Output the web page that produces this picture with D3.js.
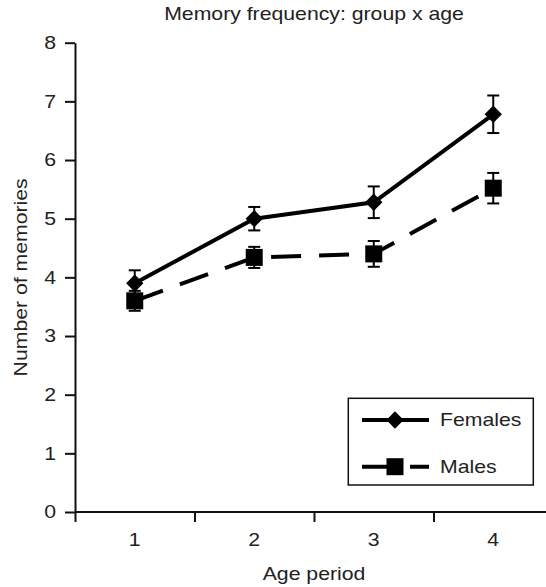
<!DOCTYPE html>
<html>
<head>
<meta charset="utf-8">
<script src="https://cdn.jsdelivr.net/npm/d3@7"></script>
<style>
  body { margin: 0; background: #fff; }
  svg { display: block; font-family: "Liberation Sans", Arial, Helvetica, sans-serif; }
</style>
</head>
<body>
<div id="chart"></div>
<script>
// values
var periods = ["1", "2", "3", "4"];
var females = [3.90, 5.00, 5.28, 6.78];
var femalesErr = [0.22, 0.20, 0.27, 0.32];
var males = [3.60, 4.34, 4.40, 5.52];
var malesErr = [0.17, 0.18, 0.22, 0.26];
var yTicks = [0, 1, 2, 3, 4, 5, 6, 7, 8];
var seriesNames = ["Females", "Males"];

var width = 546, height = 587;
var fontSize = 18, stretch = 1.18; // text in the picture is a bit wide

var svg = d3.select("#chart").append("svg")
    .attr("width", width)
    .attr("height", height);

var x = d3.scaleBand().domain(periods).range([75, 553]);
var xEdge = d3.scaleLinear().domain([0, periods.length]).range(x.range());
var y = d3.scaleLinear().domain([0, 8]).range([512, 42.7]);

var series = [
  { name: seriesNames[0], values: females, err: femalesErr, dash: null, symbol: "diamond" },
  { name: seriesNames[1], values: males, err: malesErr, dash: "30,18", symbol: "square" }
];

function styleAxis(g) {
  g.selectAll("path, line").attr("stroke", "#111").attr("stroke-width", 2);
  g.selectAll("text").attr("fill", "#222").attr("font-size", fontSize);
}

// y axis
var yAxis = svg.append("g")
    .attr("transform", "translate(" + x.range()[0] + ",0)")
    .call(d3.axisLeft(y).tickValues(yTicks).tickSize(10).tickSizeOuter(0).tickFormat(d3.format("d")));
styleAxis(yAxis);
yAxis.selectAll("text")
    .attr("x", -19 / stretch)
    .attr("transform", "scale(" + stretch + ",1)");

// x axis: tick marks on band edges, labels at band centres
var xTickAxis = svg.append("g")
    .attr("transform", "translate(0," + y(0) + ")")
    .call(d3.axisBottom(xEdge).tickValues(d3.range(periods.length + 1)).tickSize(10).tickSizeOuter(0).tickFormat(""));
styleAxis(xTickAxis);
xTickAxis.select(".domain").attr("d", "M" + x.range()[0] + ",0H" + width);

var xLabelAxis = svg.append("g")
    .attr("transform", "translate(0," + y(0) + ")")
    .call(d3.axisBottom(x).tickSize(0).tickPadding(21));
styleAxis(xLabelAxis);
xLabelAxis.select(".domain").remove();
xLabelAxis.selectAll("text").attr("transform", "scale(" + stretch + ",1)");

// titles
function label(txt, tx, ty, rot) {
  return svg.append("text")
      .attr("transform", "translate(" + tx + "," + ty + ")" + (rot ? " rotate(" + rot + ")" : "") + " scale(" + stretch + ",1)")
      .attr("text-anchor", "middle")
      .attr("font-size", fontSize)
      .attr("fill", "#222")
      .text(txt);
}
var xMid = (x.range()[0] + x.range()[1]) / 2;
label("Memory frequency: group x age", xMid, 20);
label("Age period", xMid, 580);
label("Number of memories", 27, (y(0) + y(8)) / 2, -90);

var line = d3.line()
    .x(function(d, i) { return x(periods[i]) + x.bandwidth() / 2; })
    .y(function(d) { return y(d); });

function marker(type) {
  if (type === "diamond") return d3.symbol().type(d3.symbolSquare).size(150)();
  return d3.symbol().type(d3.symbolSquare).size(289)();
}

series.forEach(function(s) {
  var g = svg.append("g");
  var cx = function(d, i) { return x(periods[i]) + x.bandwidth() / 2; };

  // error bars
  var eb = g.selectAll(".err").data(s.values).enter().append("g")
      .attr("stroke", "#000").attr("stroke-width", 2);
  eb.append("line")
      .attr("x1", cx).attr("x2", cx)
      .attr("y1", function(d, i) { return y(d + s.err[i]); })
      .attr("y2", function(d, i) { return y(d - s.err[i]); });
  eb.append("line")
      .attr("x1", function(d, i) { return cx(d, i) - 6; })
      .attr("x2", function(d, i) { return cx(d, i) + 6; })
      .attr("y1", function(d, i) { return y(d + s.err[i]); })
      .attr("y2", function(d, i) { return y(d + s.err[i]); });
  eb.append("line")
      .attr("x1", function(d, i) { return cx(d, i) - 6; })
      .attr("x2", function(d, i) { return cx(d, i) + 6; })
      .attr("y1", function(d, i) { return y(d - s.err[i]); })
      .attr("y2", function(d, i) { return y(d - s.err[i]); });

  g.append("path")
      .attr("d", line(s.values))
      .attr("fill", "none")
      .attr("stroke", "#000")
      .attr("stroke-width", 4)
      .attr("stroke-dasharray", s.dash);

  g.selectAll(".pt").data(s.values).enter().append("path")
      .attr("d", marker(s.symbol))
      .attr("fill", "#000")
      .attr("transform", function(d, i) {
        return "translate(" + cx(d, i) + "," + y(d) + ")" + (s.symbol === "diamond" ? " rotate(45)" : "");
      });
});

// legend
var legend = svg.append("g");
legend.append("rect")
    .attr("x", 348.3).attr("y", 398.3)
    .attr("width", 185).attr("height", 86.7)
    .attr("fill", "#fff").attr("stroke", "#111").attr("stroke-width", 1.5);

var item = legend.selectAll(".item").data(series).enter().append("g")
    .attr("transform", function(d, i) { return "translate(362," + (420 + i * 46.7) + ")"; });
item.append("line")
    .attr("x1", 0).attr("x2", 67)
    .attr("stroke", "#000").attr("stroke-width", 4)
    .attr("stroke-dasharray", function(d) { return d.dash; });
item.append("path")
    .attr("d", function(d) { return marker(d.symbol); })
    .attr("fill", "#000")
    .attr("transform", function(d) { return "translate(33,0)" + (d.symbol === "diamond" ? " rotate(45)" : ""); });
item.append("text")
    .attr("transform", "translate(78,0) scale(" + stretch + ",1)")
    .attr("dy", "0.35em")
    .attr("font-size", fontSize)
    .attr("fill", "#222")
    .text(function(d) { return d.name; });
</script>
</body>
</html>
